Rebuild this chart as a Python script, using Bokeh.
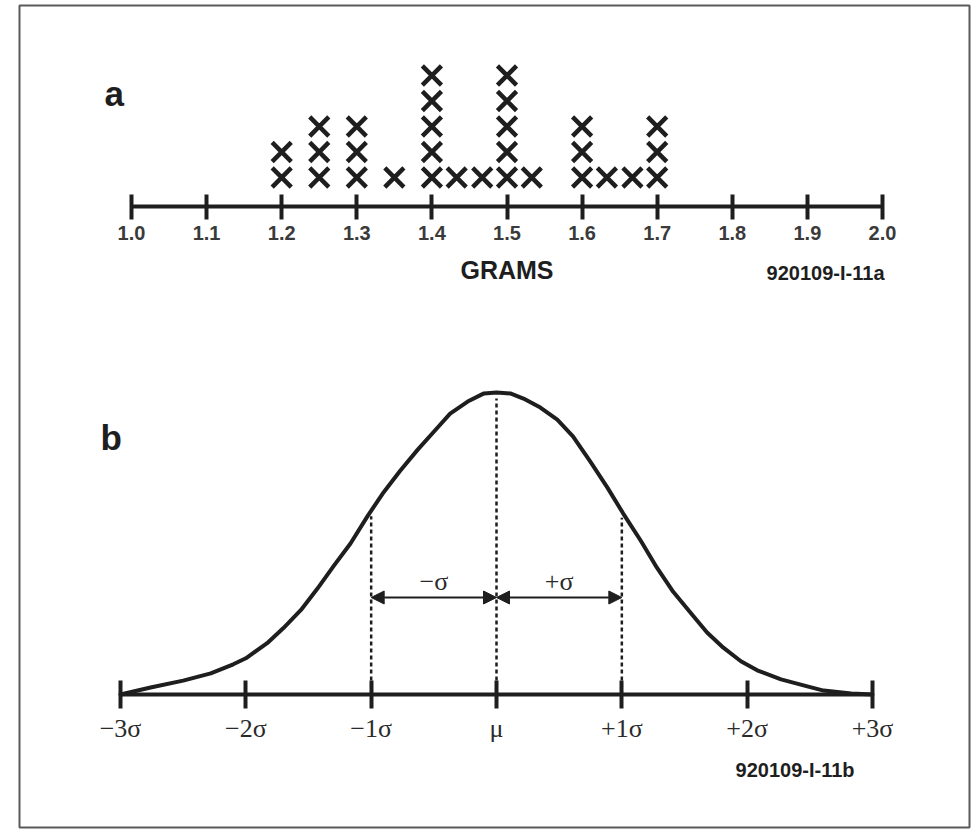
from bokeh.plotting import figure
from bokeh.models import (Range1d, LinearAxis, FixedTicker, NumeralTickFormatter,
                          Label, Arrow, NormalHead)
from bokeh.embed import file_html
from bokeh.resources import INLINE

# ---------------- data: panel a (dot plot) ----------------
grams = [1.2, 1.25, 1.3, 1.35, 1.4, 1.433, 1.467, 1.5, 1.533, 1.6, 1.633, 1.667, 1.7]
counts = [2, 3, 3, 1, 5, 1, 1, 5, 1, 3, 1, 1, 3]
gram_ticks = [1.0, 1.1, 1.2, 1.3, 1.4, 1.5, 1.6, 1.7, 1.8, 1.9, 2.0]
panel_a_tag = "a"
panel_a_title = "GRAMS"
panel_a_code = "920109-I-11a"

# ---------------- data: panel b (normal curve) ----------------
curve_sigma = [-3.0, -2.76, -2.50, -2.28, -2.10, -2.0, -1.83, -1.70, -1.56, -1.43,
               -1.30, -1.165, -1.03, -0.90, -0.77, -0.63, -0.50, -0.37, -0.23, -0.10,
               0.0, 0.11, 0.215, 0.35, 0.485, 0.61, 0.75, 0.885, 1.01, 1.15,
               1.28, 1.41, 1.55, 1.68, 1.81, 1.95, 2.08, 2.27, 2.48, 2.61, 2.83, 3.0]
curve_height = [0.0, 0.023, 0.046, 0.07, 0.10, 0.12, 0.17, 0.22, 0.28, 0.35,
                0.425, 0.50, 0.59, 0.67, 0.74, 0.81, 0.87, 0.93, 0.97, 0.997,
                1.0, 0.997, 0.98, 0.95, 0.91, 0.855, 0.77, 0.685, 0.60, 0.51,
                0.42, 0.34, 0.27, 0.205, 0.155, 0.11, 0.08, 0.05, 0.027, 0.013, 0.003, 0.0]
sigma_ticks = [-3, -2, -1, 0, 1, 2, 3]
sigma_tick_labels = ["\u22123\u03c3", "\u22122\u03c3", "\u22121\u03c3", "\u03bc",
                     "+1\u03c3", "+2\u03c3", "+3\u03c3"]
guide_sigma = [-1, 0, 1]
guide_top = [0.59, 0.98, 0.585]
span_from = [-1, 0]
span_to = [0, 1]
span_labels = ["\u2212\u03c3", "+\u03c3"]
panel_b_tag = "b"
panel_b_code = "920109-I-11b"

# ---------------- layout ----------------
OX, OY = 0, 0                               # where the canvas sits on the page
W, H = 971, 829
FL, FR, FT, FB = 19, 969, 5, 827            # frame edges on the page (px)
INK = "#1e1e1e"
SANS = "Liberation Sans"
SERIF = "Liberation Serif"


def mapper(p0, v0, p1, v1):
    k = (v1 - v0) / (p1 - p0)
    return lambda px: v0 + (px - p0) * k


ax = mapper(131, gram_ticks[0], 882, gram_ticks[-1])
ay = mapper(177, 1.0, 75, 5.0)
bx = mapper(120, sigma_ticks[0], 872, sigma_ticks[-1])
by = mapper(694, 0.0, 392, 1.0)

p = figure(width=W, height=H,
           x_range=Range1d(ax(FL), ax(FR)), y_range=Range1d(ay(FB), ay(FT)),
           x_axis_type=None, y_axis_type=None,
           toolbar_location=None, output_backend="svg",
           min_border_left=FL - OX, min_border_right=OX + W - FR,
           min_border_top=FT - OY, min_border_bottom=OY + H - FB)
p.extra_x_ranges = {"b": Range1d(bx(FL), bx(FR))}
p.extra_y_ranges = {"b": Range1d(by(FB), by(FT))}
p.outline_line_color = "#5a5a5a"
p.outline_line_width = 2
p.background_fill_color = "white"
p.border_fill_color = "white"

# ---------- panel a ----------
xs, ys = [], []
for g, c in zip(grams, counts):
    for k in range(c):
        xs.append(g)
        ys.append(k + 1)
p.scatter(xs, ys, marker="x", size=27, line_width=4.5, line_color=INK)

axis_a = LinearAxis(ticker=FixedTicker(ticks=gram_ticks),
                    formatter=NumeralTickFormatter(format="0.0"),
                    bounds=(gram_ticks[0], gram_ticks[-1]),
                    fixed_location=ay(206))
axis_a.axis_line_width = 4
axis_a.axis_line_color = INK
axis_a.major_tick_line_width = 4
axis_a.major_tick_line_color = INK
axis_a.major_tick_in = 12
axis_a.major_tick_out = 13
axis_a.minor_tick_line_color = None
axis_a.major_label_text_font = SANS
axis_a.major_label_text_font_size = "20px"
axis_a.major_label_text_font_style = "bold"
axis_a.major_label_text_color = "#3a3a3a"
axis_a.major_label_standoff = 6
p.add_layout(axis_a, "below")

p.add_layout(Label(x=ax(104), y=ay(93), text=panel_a_tag, text_font=SANS,
                   text_font_size="35px", text_font_style="bold", text_color=INK,
                   text_align="left", text_baseline="alphabetic"))
p.add_layout(Label(x=(gram_ticks[0] + gram_ticks[-1]) / 2, y=ay(269.5), text=panel_a_title,
                   text_font=SANS, text_font_size="25px", text_font_style="bold",
                   text_color=INK, text_align="center", text_baseline="middle"))
p.add_layout(Label(x=ax(884), y=ay(272), text=panel_a_code, text_font=SANS,
                   text_font_size="20px", text_font_style="bold", text_color=INK,
                   text_align="right", text_baseline="middle"))

# ---------- panel b ----------
p.segment(x0=guide_sigma, y0=0, x1=guide_sigma, y1=guide_top,
          x_range_name="b", y_range_name="b",
          line_width=2.5, line_dash="4 3", line_color=INK)

p.line(curve_sigma, curve_height, x_range_name="b", y_range_name="b",
       line_width=4, line_color=INK, line_join="round", line_cap="round")

axis_b = LinearAxis(x_range_name="b", y_range_name="b", fixed_location=0,
                    ticker=FixedTicker(ticks=sigma_ticks),
                    major_label_overrides=dict(zip(sigma_ticks, sigma_tick_labels)),
                    bounds=(sigma_ticks[0], sigma_ticks[-1]))
axis_b.axis_line_width = 4
axis_b.axis_line_color = INK
axis_b.major_tick_line_width = 4
axis_b.major_tick_line_color = INK
axis_b.major_tick_in = 14
axis_b.major_tick_out = 14
axis_b.minor_tick_line_color = None
axis_b.major_label_text_font = SERIF
axis_b.major_label_text_font_size = "26px"
axis_b.major_label_text_color = "#2a2a2a"
axis_b.major_label_standoff = 5
p.add_layout(axis_b, "below")

arrow_y = by(597)
for a0, a1, txt in zip(span_from, span_to, span_labels):
    p.add_layout(Arrow(x_start=a0, y_start=arrow_y, x_end=a1, y_end=arrow_y,
                       x_range_name="b", y_range_name="b",
                       line_width=2, line_color=INK,
                       start=NormalHead(size=13, fill_color=INK, line_color=INK, line_width=1),
                       end=NormalHead(size=13, fill_color=INK, line_color=INK, line_width=1)))
    p.add_layout(Label(x=(a0 + a1) / 2, y=by(581), text=txt, x_range_name="b", y_range_name="b",
                       text_font=SERIF, text_font_size="26px", text_color="#2a2a2a",
                       text_align="center", text_baseline="middle"))

p.add_layout(Label(x=bx(100), y=by(437), text=panel_b_tag, x_range_name="b", y_range_name="b",
                   text_font=SANS, text_font_size="35px", text_font_style="bold",
                   text_color=INK, text_align="left", text_baseline="alphabetic"))
p.add_layout(Label(x=bx(854), y=by(769), text=panel_b_code, x_range_name="b", y_range_name="b",
                   text_font=SANS, text_font_size="20px", text_font_style="bold",
                   text_color=INK, text_align="right", text_baseline="middle"))

open("out.html", "w").write(file_html(p, INLINE))
